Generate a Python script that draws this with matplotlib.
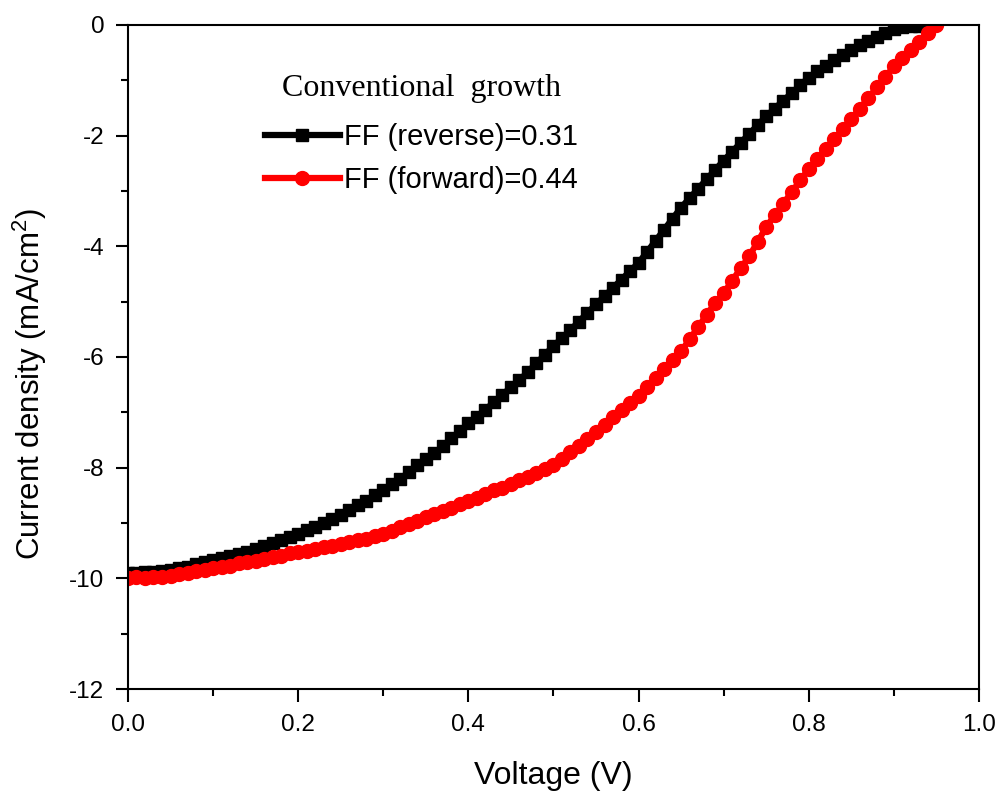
import matplotlib

matplotlib.use("Agg")

import matplotlib.pyplot as plt
from matplotlib.ticker import MultipleLocator

plt.rcParams["font.family"] = ["Liberation Sans", "DejaVu Sans"]
plt.rcParams["mathtext.fontset"] = "custom"
plt.rcParams["mathtext.rm"] = "Liberation Sans"

# voltage steps (V) at ~0.01 V spacing
v_reverse = [i / 100 for i in range(95)]
j_reverse = [
    -9.90, -9.90, -9.89, -9.88, -9.87, -9.85, -9.82, -9.79, -9.74, -9.70,
    -9.66, -9.63, -9.60, -9.56, -9.52, -9.47, -9.42, -9.37, -9.30, -9.26,
    -9.20, -9.13, -9.07, -9.00, -8.92, -8.85, -8.77, -8.68, -8.60, -8.50,
    -8.40, -8.30, -8.20, -8.08, -7.96, -7.85, -7.74, -7.61, -7.47, -7.34,
    -7.20, -7.08, -6.95, -6.82, -6.68, -6.55, -6.42, -6.27, -6.11, -5.96,
    -5.80, -5.66, -5.51, -5.36, -5.20, -5.05, -4.90, -4.75, -4.60, -4.45,
    -4.30, -4.10, -3.90, -3.70, -3.50, -3.30, -3.13, -2.96, -2.79, -2.62,
    -2.45, -2.29, -2.13, -1.97, -1.81, -1.65, -1.51, -1.37, -1.23, -1.09,
    -0.95, -0.84, -0.74, -0.64, -0.54, -0.45, -0.37, -0.29, -0.21, -0.14,
    -0.08, -0.04, -0.02, -0.01, 0.00,
]

v_forward = [i / 100 for i in range(96)]
j_forward = [
    -10.00, -9.98, -9.99, -9.97, -9.98, -9.96, -9.93, -9.90, -9.87, -9.85,
    -9.82, -9.80, -9.77, -9.73, -9.70, -9.68, -9.65, -9.62, -9.59, -9.55,
    -9.52, -9.50, -9.47, -9.44, -9.41, -9.38, -9.35, -9.31, -9.28, -9.24,
    -9.20, -9.15, -9.08, -9.02, -8.96, -8.90, -8.84, -8.78, -8.72, -8.66,
    -8.60, -8.55, -8.48, -8.41, -8.36, -8.30, -8.23, -8.16, -8.09, -8.02,
    -7.95, -7.84, -7.72, -7.60, -7.48, -7.35, -7.22, -7.09, -6.96, -6.83,
    -6.70, -6.54, -6.38, -6.22, -6.06, -5.90, -5.68, -5.46, -5.24, -5.02,
    -4.85, -4.62, -4.40, -4.18, -3.92, -3.65, -3.44, -3.23, -3.02, -2.81,
    -2.60, -2.42, -2.24, -2.06, -1.88, -1.70, -1.51, -1.32, -1.13, -0.94,
    -0.75, -0.60, -0.45, -0.30, -0.15, 0.00,
]

labels = ["FF (reverse)=0.31", "FF (forward)=0.44"]

fig = plt.figure(figsize=(10.02, 7.95), dpi=100)
ax = fig.add_axes([0.1277, 0.1333, 0.8493, 0.8353])

ax.plot(v_reverse, j_reverse, color="black", lw=4.5, marker="s", ms=9, label=labels[0])
ax.plot(v_forward, j_forward, color="red", lw=4.5, marker="o", ms=10, label=labels[1])

ax.set_xlim(0, 1.0)
ax.set_ylim(-12, 0)
ax.xaxis.set_major_locator(MultipleLocator(0.2))
ax.xaxis.set_minor_locator(MultipleLocator(0.1))
ax.yaxis.set_major_locator(MultipleLocator(2))
ax.yaxis.set_minor_locator(MultipleLocator(1))
ax.xaxis.set_major_formatter(lambda x, pos: f"{x:.1f}")
ax.yaxis.set_major_formatter(lambda y, pos: f"{y:.0f}")

ax.tick_params(which="both", direction="out", width=1.5, labelsize=17.5, top=False, right=False)
ax.tick_params(which="major", length=9)
ax.tick_params(axis="x", which="major", pad=9)
ax.tick_params(axis="y", which="major", pad=8)
ax.tick_params(which="minor", length=5)
for s in ax.spines.values():
    s.set_linewidth(1.5)

ax.set_xlabel("Voltage (V)", fontsize=23, labelpad=18)
ax.set_ylabel("Current density (mA/cm$^{2}$)", fontsize=22.5)
ax.yaxis.set_label_coords(-0.093, 0.46)

leg = ax.legend(
    loc="upper left",
    bbox_to_anchor=(0.13, 0.965),
    frameon=False,
    fontsize=21,
    handlelength=2.57,
    handletextpad=0.15,
    labelspacing=0.52,
    title="Conventional  growth",
    title_fontproperties={"family": "Liberation Serif", "size": 23},
    numpoints=1,
)
leg._legend_box.sep = 14

fig.savefig("out.png", dpi=100)
